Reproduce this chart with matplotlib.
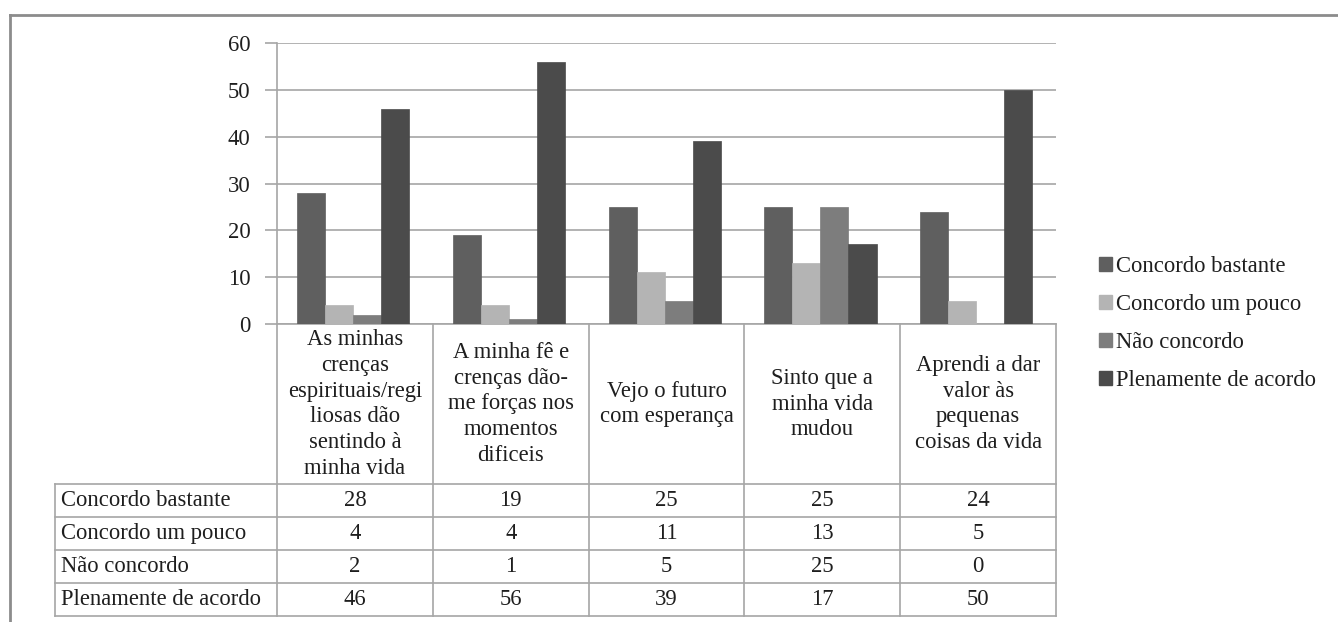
import matplotlib
matplotlib.use("Agg")
import matplotlib.pyplot as plt
from matplotlib.lines import Line2D
from matplotlib.patches import Patch
import numpy as np

plt.rcParams['font.family'] = ['Liberation Serif', 'DejaVu Serif']

# data
categories = [
    "As minhas\ncrenças\nespirituais/regi\nliosas dão\nsentindo à\nminha vida",
    "A minha fê e\ncrenças dão-\nme forças nos\nmomentos\ndificeis",
    "Vejo o futuro\ncom esperança",
    "Sinto que a\nminha vida\nmudou",
    "Aprendi a dar\nvalor às\npequenas\ncoisas da vida",
]
series_names = ["Concordo bastante", "Concordo um pouco", "Não concordo", "Plenamente de acordo"]
concordo_bastante = [28, 19, 25, 25, 24]
concordo_um_pouco = [4, 4, 11, 13, 5]
nao_concordo = [2, 1, 5, 25, 0]
plenamente = [46, 56, 39, 17, 50]
series = [concordo_bastante, concordo_um_pouco, nao_concordo, plenamente]
colors = ['#5f5f5f', '#b4b4b4', '#7d7d7d', '#4b4b4b']

W, H = 1338, 622
fig = plt.figure(figsize=(W / 100, H / 100), dpi=100)
ax = fig.add_axes([277 / W, 1 - 324 / H, 779 / W, 281 / H])

fs = 16.3
grid_c = '#a6a6a6'
txt_c = '#1e1e1e'

x = np.arange(len(categories))
bw = 0.18
for k, (vals, c) in enumerate(zip(series, colors)):
    ax.bar(x + (k - 1.5) * bw - 0.012, vals, bw, color=c, edgecolor=c, linewidth=0.5, zorder=3)

ax.set_xlim(-0.5, len(categories) - 0.5)
ax.set_ylim(0, 60)
ax.set_yticks(range(0, 61, 10))
ax.yaxis.grid(True, color=grid_c, linewidth=1.2, zorder=0)
ax.set_xticks([])
for s in ['top', 'right', 'bottom']:
    ax.spines[s].set_visible(False)
ax.spines['left'].set_color(grid_c)
ax.spines['left'].set_linewidth(1.2)
ax.tick_params(axis='y', length=9, color=grid_c, width=1.2, labelsize=fs,
               labelcolor=txt_c, pad=10)

# data table below the axes (axes fraction coordinates)
hdr_h = 160 / 281
row_h = 33 / 281
n = len(categories)
left_edge = (55 - 277) / 779
bottom = -hdr_h - row_h * len(series)
tr = ax.transAxes
lw = 1.2

def hline(y, x0, x1):
    ax.add_line(Line2D([x0, x1], [y, y], transform=tr, color=grid_c, lw=lw, clip_on=False))

def vline(xx, y0, y1):
    ax.add_line(Line2D([xx, xx], [y0, y1], transform=tr, color=grid_c, lw=lw, clip_on=False))

hline(0, 0, 1)
for r in range(len(series) + 1):
    hline(-hdr_h - r * row_h, left_edge, 1)
vline(left_edge, -hdr_h, bottom)
for i in range(n + 1):
    vline(i / n, 0, bottom)

for i, cat in enumerate(categories):
    ax.text((i + 0.5) / n, -hdr_h / 2, cat, transform=tr, ha='center', va='center',
            fontsize=fs, color=txt_c, linespacing=1.3)

for r, (name, vals) in enumerate(zip(series_names, series)):
    yc = -hdr_h - (r + 0.5) * row_h
    ax.text(left_edge + 0.008, yc, name, transform=tr, ha='left', va='center',
            fontsize=fs, color=txt_c)
    for i, v in enumerate(vals):
        ax.text((i + 0.5) / n, yc, str(v), transform=tr, ha='center', va='center',
                fontsize=fs, color=txt_c)

# legend
handles = [Patch(facecolor=c, edgecolor=c) for c in colors]
fig.legend(handles, series_names, loc='upper left', bbox_to_anchor=(1088 / W, 1 - 245 / H),
           frameon=False, fontsize=fs, handlelength=0.55, handleheight=0.55,
           handletextpad=0.2, labelspacing=0.75, borderpad=0, labelcolor=txt_c)

# outer frame
fig.add_artist(Line2D([10 / W, 10 / W], [0, 1 - 15 / H], transform=fig.transFigure,
                      color='#8c8c8c', lw=2))
fig.add_artist(Line2D([10 / W, 1], [1 - 15 / H, 1 - 15 / H], transform=fig.transFigure,
                      color='#8c8c8c', lw=2))

fig.savefig("out.png", dpi=100)
